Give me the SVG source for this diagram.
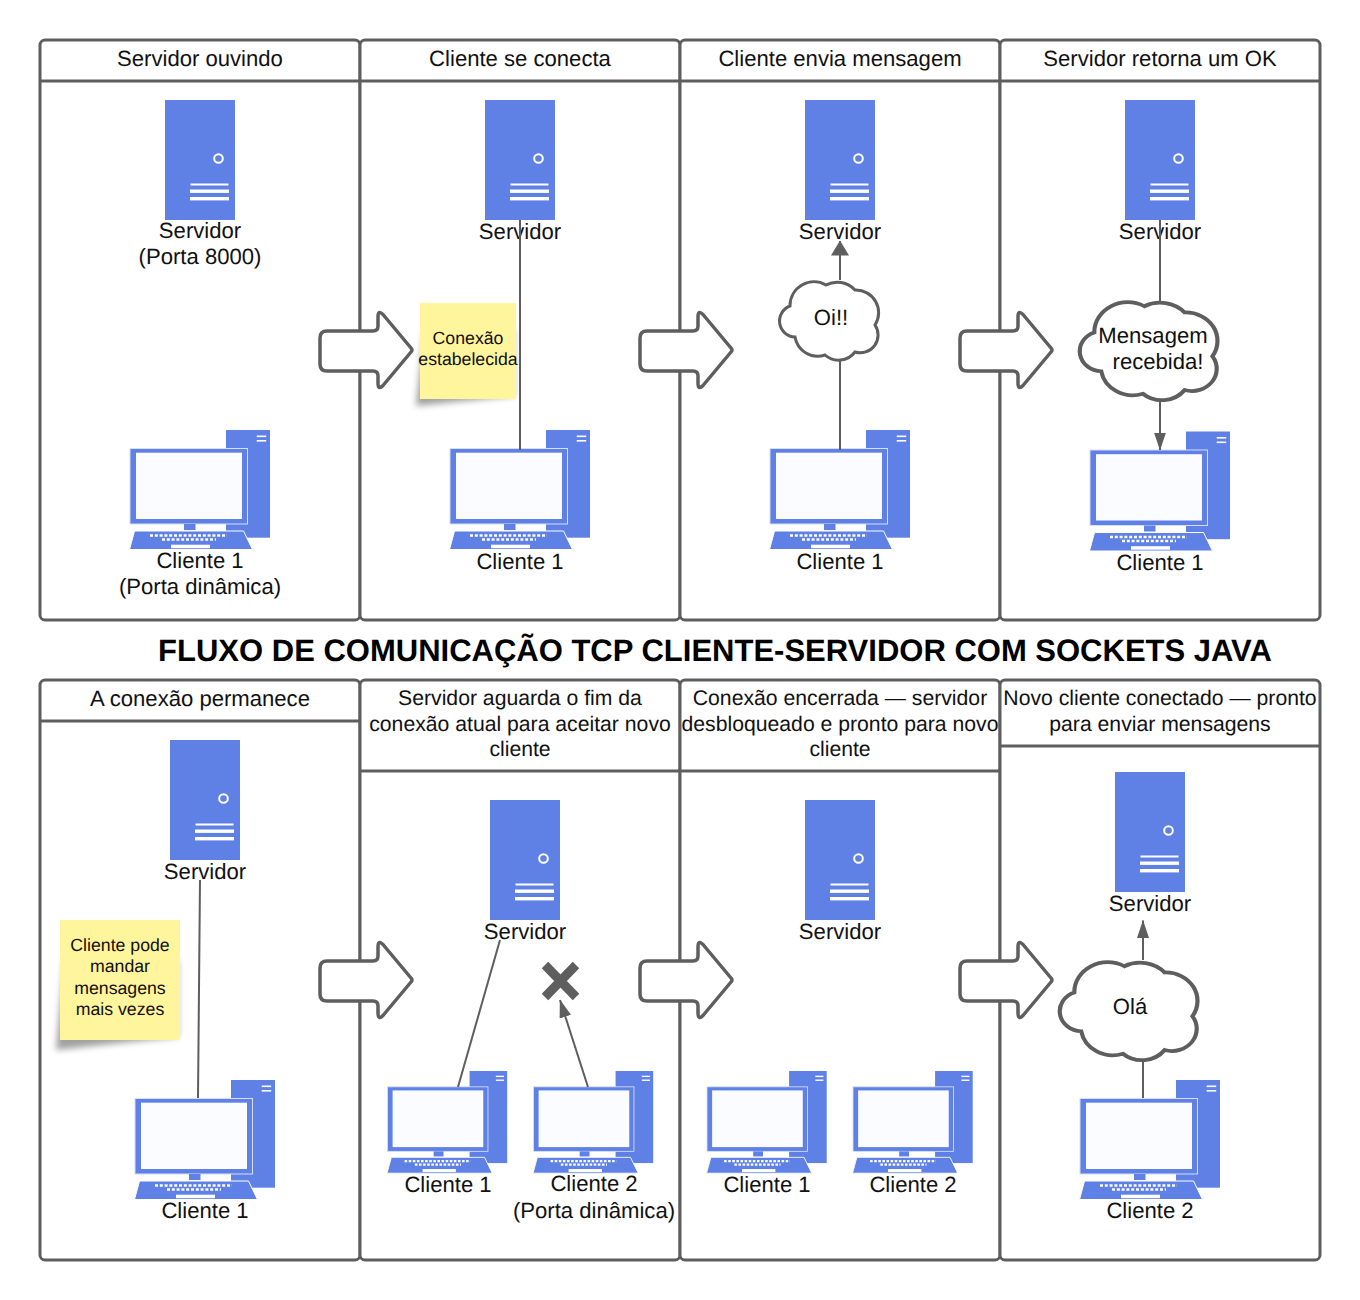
<svg xmlns="http://www.w3.org/2000/svg" xmlns:xlink="http://www.w3.org/1999/xlink" width="1360" height="1300" viewBox="0 0 1360 1300">
<style>
text{font-family:"Liberation Sans",Arial,sans-serif;font-size:22.1px;fill:#111;text-anchor:middle;text-rendering:geometricPrecision}
.t{font-size:31px;font-weight:bold;fill:#000}
.s{font-size:17.7px}
.m{font-size:21.2px}
.p{fill:#fff;stroke:#5e5e5e;stroke-width:3}
.h{fill:none;stroke:#5e5e5e;stroke-width:3}
.b{fill:#5f81e6}
.w{fill:#fff}
.c{fill:none;stroke:#5e5e5e;stroke-width:2}
.ba{fill:#fff;stroke:#5e5e5e;stroke-width:3.5;stroke-linejoin:round}
.cl{fill:#fff;stroke:#5e5e5e;stroke-width:3;vector-effect:non-scaling-stroke}
.st{fill:#fff59d}
.sh{fill:#555;opacity:.55}
</style>
<defs>
<filter id="blur" x="-30%" y="-30%" width="160%" height="160%"><feGaussianBlur stdDeviation="3"/></filter>
<marker id="arrow" viewBox="0 0 18 12" refX="17.5" refY="6" markerWidth="18" markerHeight="12" markerUnits="userSpaceOnUse" orient="auto"><path d="M0,0L18,6L0,12Z" fill="#5e5e5e"/></marker>
<marker id="arrow-wide" viewBox="0 0 15 18" refX="14.5" refY="9" markerWidth="15" markerHeight="18" markerUnits="userSpaceOnUse" orient="auto"><path d="M0,0L15,9L0,18Z" fill="#5e5e5e"/></marker>
<g id="server">
<rect class="b" width="70" height="120"/>
<circle cx="53.5" cy="58.5" r="4.300" fill="#5f81e6" stroke="#fff" stroke-width="2"/>
<rect class="w" x="25.5" y="83.5" width="38" height="2"/>
<rect class="w" x="25" y="89.5" width="39" height="3.4"/>
<rect class="w" x="25" y="97" width="39" height="3.4"/>
</g>
<path id="block" d="M-53,-19H-7Q-2,-19-2,-24V-33Q-2,-40.500 3,-35.500L31,-2Q33,0 31,2L3,35.500Q-2,40.500-2,33V26Q-2,21-7,21H-53Q-60,21-60,14V-12Q-60,-19-53,-19Z"/>
<path id="cloudp" d="M11,26A24,24 0 0 1 47,5A24,24 0 0 1 76,10A22.7,22.7 0 0 1 96,45A17.8,17.8 0 0 1 76,72A20.5,20.5 0 0 1 46,75A23,23 0 0 1 16,57A16,16 0 0 1 11,26Z"/>
<g id="client">
<rect class="b" x="96" width="44" height="107.7"/>
<rect class="w" x="126.7" y="5.5" width="9.5" height="1.6"/>
<rect class="w" x="126.7" y="10" width="9.5" height="1.6"/>
<rect class="b" x="0" y="18.5" width="117.500" height="75.5" stroke="#d6def9" stroke-width="1"/>
<rect x="6" y="22.7" width="106" height="66.3" fill="#fbfcff"/>
<rect x="54" y="94" width="11.500" height="6" class="b"/>
<path class="b" stroke="#fff" stroke-width="1" d="M4.500,101H113.500L122.500,119.500H-0.500Z"/>
<line x1="20" y1="105.500" x2="97" y2="105.500" stroke="#fff" stroke-width="2.600" stroke-dasharray="3 1.800"/>
<line x1="32" y1="109.500" x2="86" y2="109.500" stroke="#fff" stroke-width="2.600" stroke-dasharray="3 1.800"/>
<rect class="w" x="41" y="114.700" width="39" height="3.500"/>
</g>
</defs>

<g id="panels">
<g id="panel-1"><rect class="p" x="40" y="40" width="320" height="580" rx="5"/><path class="h" d="M40,81H360"/><text x="200" y="66">Servidor ouvindo</text></g>
<g id="panel-2"><rect class="p" x="360" y="40" width="320" height="580" rx="5"/><path class="h" d="M360,81H680"/><text x="520" y="66">Cliente se conecta</text></g>
<g id="panel-3"><rect class="p" x="680" y="40" width="320" height="580" rx="5"/><path class="h" d="M680,81H1000"/><text x="840" y="66">Cliente envia mensagem</text></g>
<g id="panel-4"><rect class="p" x="1000" y="40" width="320" height="580" rx="5"/><path class="h" d="M1000,81H1320"/><text x="1160" y="66">Servidor retorna um OK</text></g>
<g id="panel-5"><rect class="p" x="40" y="680" width="320" height="580" rx="5"/><path class="h" d="M40,721H360"/><text x="200" y="705.500">A conexão permanece</text></g>
<g id="panel-6"><rect class="p" x="360" y="680" width="320" height="580" rx="5"/><path class="h" d="M360,771H680"/><text class="m" x="520" y="705">Servidor aguarda o fim da</text><text class="m" x="520" y="730.500">conexão atual para aceitar novo</text><text class="m" x="520" y="756">cliente</text></g>
<g id="panel-7"><rect class="p" x="680" y="680" width="320" height="580" rx="5"/><path class="h" d="M680,771H1000"/><text class="m" x="840" y="705">Conexão encerrada — servidor</text><text class="m" x="840" y="730.500">desbloqueado e pronto para novo</text><text class="m" x="840" y="756">cliente</text></g>
<g id="panel-8"><rect class="p" x="1000" y="680" width="320" height="580" rx="5"/><path class="h" d="M1000,746H1320"/><text class="m" x="1160" y="705">Novo cliente conectado — pronto</text><text class="m" x="1160" y="730.500">para enviar mensagens</text></g>
</g>

<text id="title" class="t" x="715" y="661">FLUXO DE COMUNICAÇÃO TCP CLIENTE-SERVIDOR COM SOCKETS JAVA</text>

<g id="block-arrows">
<use xlink:href="#block" class="ba" x="380" y="350"/>
<use xlink:href="#block" class="ba" x="700" y="350"/>
<use xlink:href="#block" class="ba" x="1020" y="350"/>
<use xlink:href="#block" class="ba" x="380" y="980"/>
<use xlink:href="#block" class="ba" x="700" y="980"/>
<use xlink:href="#block" class="ba" x="1020" y="980"/>
</g>

<g id="server-1"><use xlink:href="#server" x="165" y="100"/><text x="200" y="238">Servidor</text><text x="200" y="264">(Porta 8000)</text></g>
<g id="client-1"><use xlink:href="#client" x="130" y="430"/><text x="200" y="568">Cliente 1</text><text x="200" y="594">(Porta dinâmica)</text></g>

<g id="server-2"><use xlink:href="#server" x="485" y="100"/><text x="520" y="239">Servidor</text></g>
<g id="client-2"><use xlink:href="#client" x="450" y="430"/><text x="520" y="569">Cliente 1</text></g>

<g id="server-3"><use xlink:href="#server" x="805" y="100"/><text x="840" y="239">Servidor</text></g>
<g id="client-3"><use xlink:href="#client" x="770" y="430"/><text x="840" y="569">Cliente 1</text></g>

<g id="server-4"><use xlink:href="#server" x="1125" y="100"/><text x="1160" y="239">Servidor</text></g>
<g id="client-4"><use xlink:href="#client" x="1090" y="431.500"/><text x="1160" y="570">Cliente 1</text></g>

<g id="server-5"><use xlink:href="#server" x="170" y="740"/><text x="205" y="879">Servidor</text></g>
<g id="client-5"><use xlink:href="#client" x="135" y="1080"/><text x="205" y="1218">Cliente 1</text></g>

<g id="server-6"><use xlink:href="#server" x="490" y="800"/><text x="525" y="939">Servidor</text></g>
<g id="client-6a"><use xlink:href="#client" transform="translate(387.500,1071) scale(.855)"/><text x="448" y="1192">Cliente 1</text></g>
<g id="client-6b"><use xlink:href="#client" transform="translate(533.500,1071) scale(.855)"/><text x="594" y="1191">Cliente 2</text><text x="594" y="1218">(Porta dinâmica)</text></g>

<g id="server-7"><use xlink:href="#server" x="805" y="800"/><text x="840" y="939">Servidor</text></g>
<g id="client-7a"><use xlink:href="#client" transform="translate(707,1071) scale(.855)"/><text x="767" y="1192">Cliente 1</text></g>
<g id="client-7b"><use xlink:href="#client" transform="translate(853,1071) scale(.855)"/><text x="913" y="1192">Cliente 2</text></g>

<g id="server-8"><use xlink:href="#server" x="1115" y="772"/><text x="1150" y="911">Servidor</text></g>
<g id="client-8"><use xlink:href="#client" x="1080" y="1080"/><text x="1150" y="1218">Cliente 2</text></g>

<g id="connectors">
<path class="c" d="M520,220V450"/>
<path class="c" d="M840,360V450"/>
<path class="c" d="M840,280V241" marker-end="url(#arrow-wide)"/>
<path class="c" d="M1160,220V302"/>
<path class="c" d="M1160,400V450" marker-end="url(#arrow)"/>
<path class="c" d="M200,880L198,1098"/>
<path class="c" d="M500,940L458,1087"/>
<path class="c" d="M588,1087L560,1000" marker-end="url(#arrow)"/>
<path class="c" d="M1143,1060V1098"/>
<path class="c" d="M1143,960V920.500" marker-end="url(#arrow)"/>
</g>

<g id="note-1">
<path class="sh" filter="url(#blur)" d="M424,330H514V396L416,406Z"/>
<rect class="st" x="420" y="303" width="96" height="96"/>
<text class="s" x="468" y="344">Conexão</text><text class="s" x="468" y="365">estabelecida</text>
</g>
<g id="note-2">
<path class="sh" filter="url(#blur)" d="M64,960H178V1037L56,1050Z"/>
<rect class="st" x="60" y="920" width="120" height="120"/>
<text class="s" x="120" y="950.500">Cliente pode</text><text class="s" x="120" y="972">mandar</text><text class="s" x="120" y="993.500">mensagens</text><text class="s" x="120" y="1014.500">mais vezes</text>
</g>

<g id="cloud-oi"><use xlink:href="#cloudp" class="cl" transform="translate(779,280)"/><text x="831" y="325">Oi!!</text></g>
<g id="cloud-mensagem"><use xlink:href="#cloudp" class="cl" transform="translate(1079,300) scale(1.39,1.25)"/><text x="1153" y="343">Mensagem</text><text x="1158" y="369">recebida!</text></g>
<g id="cloud-ola"><use xlink:href="#cloudp" class="cl" transform="translate(1059,960) scale(1.39,1.25)"/><text x="1130" y="1014">Olá</text></g>

<g id="x-mark"><path d="M545,965L576,997M576,965L545,997" fill="none" stroke="#5e5e5e" stroke-width="9"/></g>
</svg>
